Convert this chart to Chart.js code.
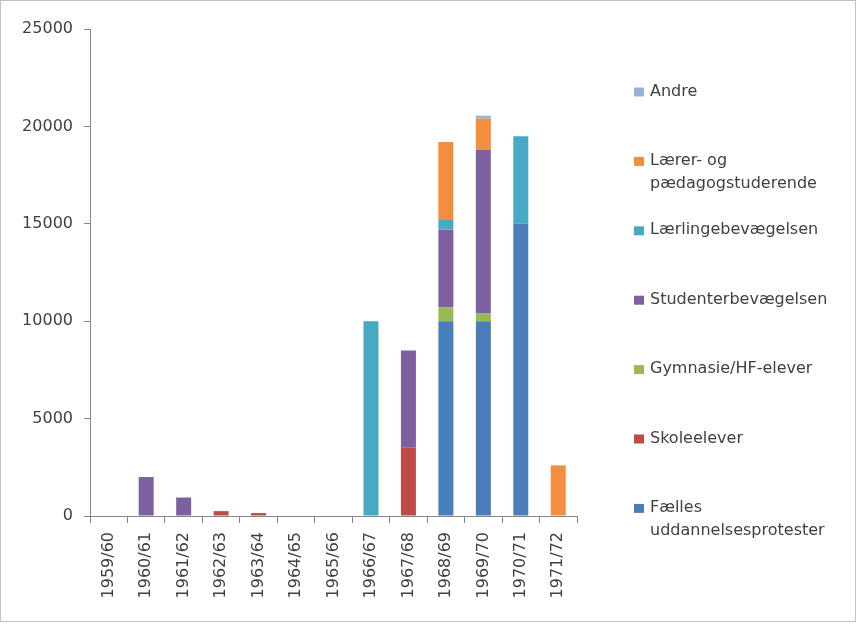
<!DOCTYPE html>
<html>
<head>
<meta charset="utf-8">
<script src="https://cdn.jsdelivr.net/npm/chart.js@4"></script>
<style>
  html, body { margin: 0; padding: 0; background: #fff; }
  #wrap { position: relative; width: 858px; height: 624px; }
  #frame { position: absolute; left: 0; top: 0; width: 854px; height: 620px; border: 1px solid #bfbfbf; pointer-events: none; }
  canvas { position: absolute; left: 0; top: 0; }
</style>
</head>
<body>
<div id="wrap">
  <canvas id="c" width="858" height="624"></canvas>
  <div id="frame"></div>
</div>
<script>
const categories = ['1959/60','1960/61','1961/62','1962/63','1963/64','1964/65','1965/66','1966/67','1967/68','1968/69','1969/70','1970/71','1971/72'];
const faelles   = [0, 0, 0, 0, 0, 0, 0, 0, 0, 10000, 10000, 15000, 0];
const skole     = [0, 0, 0, 250, 150, 0, 0, 0, 3500, 0, 0, 0, 0];
const gymnasie  = [0, 0, 0, 0, 0, 0, 0, 0, 0, 700, 400, 0, 0];
const studenter = [0, 2000, 950, 0, 0, 0, 0, 0, 5000, 4000, 8400, 0, 0];
const laerling  = [0, 0, 0, 0, 0, 0, 0, 10000, 0, 500, 0, 4500, 0];
const laerer    = [0, 0, 0, 0, 0, 0, 0, 0, 0, 4000, 1600, 0, 2600];
const andre     = [0, 0, 0, 0, 0, 0, 0, 0, 0, 0, 150, 0, 0];
const yTicks = [0, 5000, 10000, 15000, 20000, 25000];

const FONT = 'DejaVu Sans';
const TXT = '#404040';

const series = [
  { label: ['Fælles', 'uddannelsesprotester'], data: faelles, color: '#4A7EBB' },
  { label: ['Skoleelever'], data: skole, color: '#BE4B48' },
  { label: ['Gymnasie/HF-elever'], data: gymnasie, color: '#98B954' },
  { label: ['Studenterbevægelsen'], data: studenter, color: '#7D60A0' },
  { label: ['Lærlingebevægelsen'], data: laerling, color: '#46AAC5' },
  { label: ['Lærer- og', 'pædagogstuderende'], data: laerer, color: '#F38E3E' },
  { label: ['Andre'], data: andre, color: '#95B3D7' }
];

const legendPlugin = {
  id: 'sideLegend',
  afterDraw(chart) {
    const ctx = chart.ctx;
    const ds = chart.data.datasets;
    ctx.save();
    ctx.font = '16px "' + FONT + '"';
    ctx.textBaseline = 'middle';
    ctx.textAlign = 'left';
    const x0 = 634, step = 69.4, yStart = 91.5, lineH = 22.5;
    for (let i = ds.length - 1, k = 0; i >= 0; i--, k++) {
      const y = yStart + step * k;
      ctx.fillStyle = ds[i].backgroundColor;
      ctx.fillRect(x0, y - 4, 10, 9);
      ctx.fillStyle = TXT;
      ds[i].legendLines.forEach((t, j) => ctx.fillText(t, x0 + 16, y + j * lineH));
    }
    ctx.restore();
  }
};

new Chart(document.getElementById('c'), {
  type: 'bar',
  data: {
    labels: categories,
    datasets: series.map(s => ({
      label: s.label.join(' '),
      legendLines: s.label,
      data: s.data.map(v => (v === 0 ? null : v)),
      backgroundColor: s.color,
      borderWidth: 0,
      barPercentage: 0.4,
      categoryPercentage: 1.0
    }))
  },
  options: {
    responsive: false,
    animation: false,
    devicePixelRatio: 1,
    layout: { padding: { left: 0, top: 29, right: 281, bottom: 0 } },
    plugins: { legend: { display: false }, tooltip: { enabled: false } },
    scales: {
      x: {
        stacked: true,
        offset: true,
        grid: { display: true, drawOnChartArea: false, offset: true, color: '#868686', tickLength: 7, lineWidth: 1 },
        border: { display: true, color: '#868686', width: 1 },
        ticks: { color: TXT, font: { family: FONT, size: 16 }, minRotation: 90, maxRotation: 90, padding: 9, autoSkip: false },
        afterFit(scale) { scale.height = 108; }
      },
      y: {
        stacked: true,
        min: 0, max: 25000,
        afterBuildTicks(scale) { scale.ticks = yTicks.map(v => ({ value: v })); },
        grid: { display: true, drawOnChartArea: false, color: '#868686', tickLength: 6 },
        border: { display: true, color: '#868686', width: 1 },
        ticks: { color: TXT, font: { family: FONT, size: 16 }, padding: 11, callback: v => String(v) },
        afterFit(scale) { scale.width = 90; }
      }
    }
  },
  plugins: [legendPlugin]
});
</script>
</body>
</html>
